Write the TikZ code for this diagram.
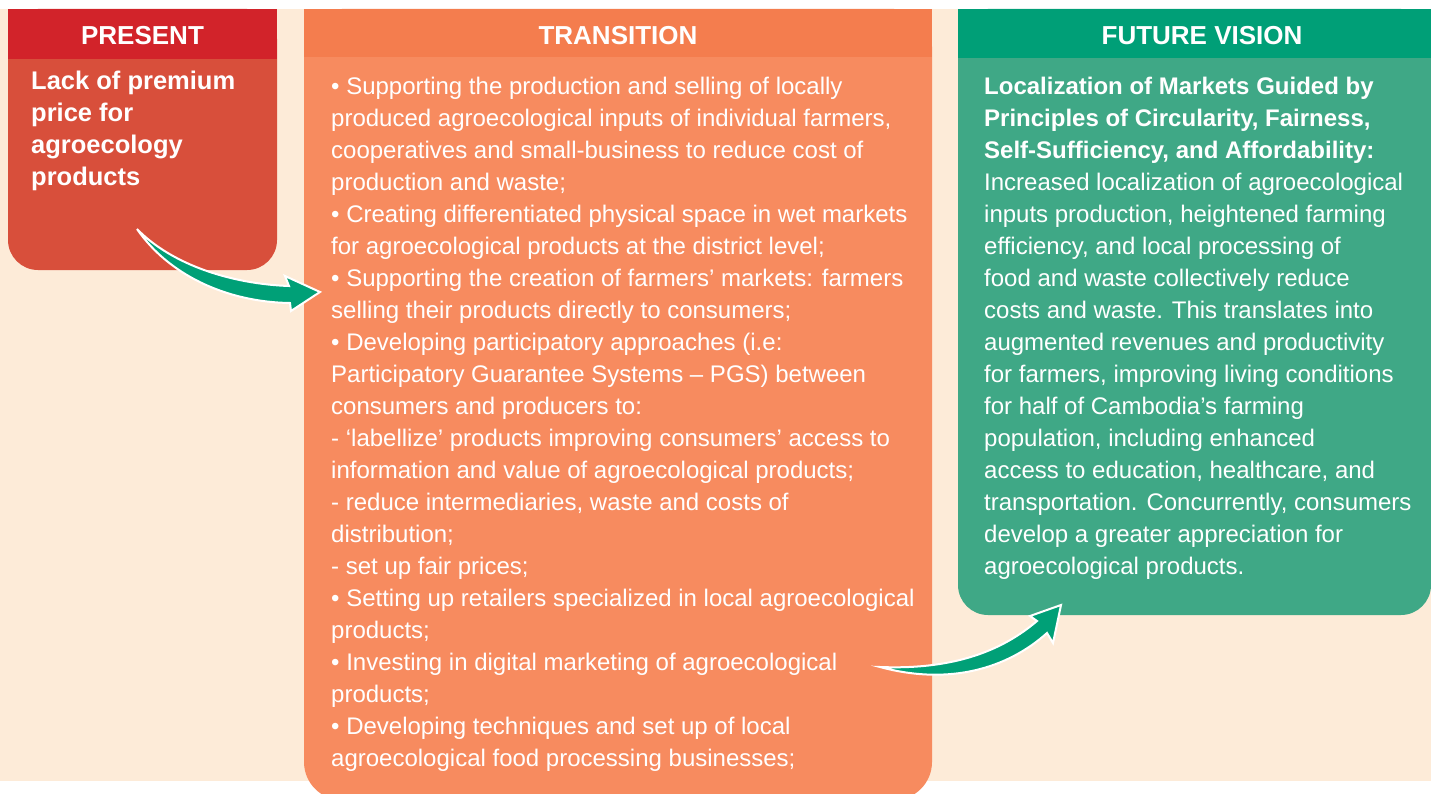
\documentclass[tikz,border=0pt]{standalone}
\usepackage{fontspec}
\setmainfont{Liberation Sans}
\usepackage{xcolor}
\usetikzlibrary{positioning,calc}

\definecolor{bgpeach}{HTML}{FDEBD8}
\definecolor{presenthead}{HTML}{D2232A}
\definecolor{presentbody}{HTML}{D84F3B}
\definecolor{transhead}{HTML}{F47D4E}
\definecolor{transbody}{HTML}{F78B5F}
\definecolor{futurehead}{HTML}{009F77}
\definecolor{futurebody}{HTML}{3FA886}
\definecolor{arrowgreen}{HTML}{00A077}

\begin{document}
\begin{tikzpicture}[x=1pt,y=-1pt,
    headtext/.style={text=white, font=\bfseries\fontsize{26}{30}\selectfont},
    bodytext/.style={anchor=north west, inner sep=0pt, align=left, text=white, font=\fontsize{24}{32}\selectfont},
    greenarrow/.style={fill=arrowgreen, draw=white, line width=2pt, line join=miter}]
    \useasboundingbox (0,0) rectangle (1431,794);
    \fill[white] (0,0) rectangle (1431,794);
    \fill[bgpeach] (0,9) rectangle (1431,781);

    % Present column
    \fill[presentbody, rounded corners=30pt] (8,9) rectangle (277,270);
    \fill[presenthead] (8,9) rectangle (277,59);
    \node[headtext] (present) at (142.5,36) {PRESENT};
    \node[bodytext, font=\bfseries\fontsize{25.5}{32}\selectfont] (presenttext) at (31,71)
        {Lack of premium\\price for\\agroecology\\products};

    % Transition column
    \fill[transbody, rounded corners=38pt] (304,9) rectangle (932,800);
    \fill[transhead] (304,9) rectangle (932,57);
    \node[headtext] (transition) at (618,36) {TRANSITION};
    \node[bodytext] (transtext) at (331,76.5)
        {• Supporting the production and selling of locally\\
         produced agroecological inputs of individual farmers,\\
         cooperatives and small-business to reduce cost of\\
         production and waste;\\
         • Creating differentiated physical space in wet markets\\
         for agroecological products at the district level;\\
         • Supporting the creation of farmers’ markets: farmers\\
         selling their products directly to consumers;\\
         • Developing participatory approaches (i.e:\\
         Participatory Guarantee Systems – PGS) between\\
         consumers and producers to:\\
         - ‘labellize’ products improving consumers’ access to\\
         information and value of agroecological products;\\
         - reduce intermediaries, waste and costs of\\
         distribution;\\
         - set up fair prices;\\
         • Setting up retailers specialized in local agroecological\\
         products;\\
         • Investing in digital marketing of agroecological\\
         products;\\
         • Developing techniques and set up of local\\
         agroecological food processing businesses;};

    % Future vision column
    \fill[futurebody, rounded corners=30pt] (958,9) rectangle (1431,615);
    \fill[futurehead] (958,9) rectangle (1431,58);
    \node[headtext] (future) at (1202,36) {FUTURE VISION};
    \node[bodytext] (futuretext) at (984,76.5)
        {\textbf{Localization of Markets Guided by}\\
         \textbf{Principles of Circularity, Fairness,}\\
         \textbf{Self-Sufficiency, and Affordability:}\\
         Increased localization of agroecological\\
         inputs production, heightened farming\\
         efficiency, and local processing of\\
         food and waste collectively reduce\\
         costs and waste. This translates into\\
         augmented revenues and productivity\\
         for farmers, improving living conditions\\
         for half of Cambodia’s farming\\
         population, including enhanced\\
         access to education, healthcare, and\\
         transportation. Concurrently, consumers\\
         develop a greater appreciation for\\
         agroecological products.};

    % Arrows
    \draw[greenarrow] (137,229) .. controls (172,265) and (232,284) .. (289,286)
        -- (285,276) -- (320,292) -- (291,311) -- (290,303)
        .. controls (225,302) and (168,274) .. cycle;
    \draw[greenarrow] (880,667) .. controls (955,670) and (1003,650) .. (1037,621)
        -- (1030,616) -- (1061,605) -- (1053,643) -- (1047,633)
        .. controls (1008,668) and (950,686) .. cycle;
\end{tikzpicture}
\end{document}
